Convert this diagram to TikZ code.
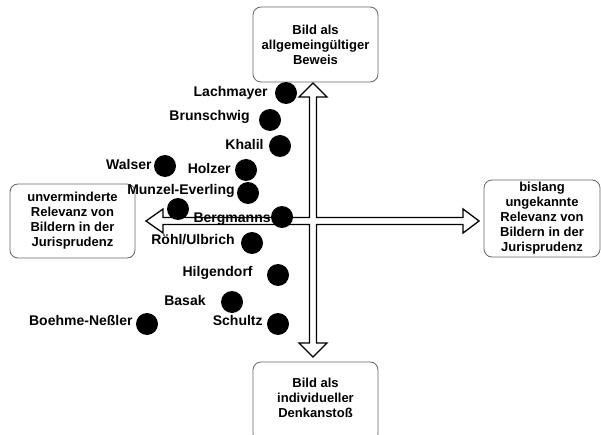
\documentclass[tikz,border=0pt]{standalone}
\usepackage{fontspec}
\setmainfont{Liberation Sans}
\usetikzlibrary{positioning}
\begin{document}
\begin{tikzpicture}[x=1pt, y=-1pt,
  quadbox/.style={draw=black!60, line width=0.8pt, rounded corners=8pt, fill=white,
                  align=center, inner sep=1pt, font=\fontsize{13}{15}\selectfont\bfseries},
  dot/.style={circle, fill=black, inner sep=0pt, minimum size=22pt},
  autor/.style={inner sep=0pt, text height=10pt, text depth=3pt,
                font=\fontsize{14}{16}\selectfont\bfseries}]
\useasboundingbox (0,0) rectangle (601,435);

% Achsenkreuz
\draw[line width=1.3pt, fill=white, shift={(313,221)}]
  (0,-138) -- (14,-124) -- (3.5,-124) -- (3.5,-3.5) -- (150,-3.5) -- (150,-12)
  -- (166,0) -- (150,12) -- (150,3.5) -- (3.5,3.5) -- (3.5,122) -- (14,122)
  -- (0,136) -- (-14,122) -- (-3.5,122) -- (-3.5,3.5) -- (-150,3.5) -- (-150,12)
  -- (-167,0) -- (-150,-12) -- (-150,-3.5) -- (-3.5,-3.5) -- (-3.5,-124)
  -- (-14,-124) -- cycle;

% Pole
\node[quadbox, minimum width=125pt, minimum height=75pt] (beweis) at (315.5,44.5)
  {Bild als\\allgemeingültiger\\Beweis};
\node[quadbox, minimum width=125pt, minimum height=74pt] (unvermindert) at (72.5,221)
  {unverminderte\\Relevanz von\\Bildern in der\\Jurisprudenz};
\node[quadbox, minimum width=116pt, minimum height=77pt, inner sep=0pt] (bislang) at (542,218.5)
  {bislang\\ungekannte\\Relevanz von\\Bildern in der\\Jurisprudenz};
\node[quadbox, minimum width=125pt, minimum height=80pt] (denkanstoss) at (315.5,402) {};
\node[align=center, font=\fontsize{13}{15}\selectfont\bfseries] (denkanstossT) at (315.5,398)
  {Bild als\\individueller\\Denkanstoß};

% Autoren
\node[dot] (lachmayer) at (286,93) {};
\node[autor, left=7pt of lachmayer] (lachmayerL) {Lachmayer};
\node[dot] (brunschwig) at (270,120) {};
\node[autor, left=9pt of brunschwig, yshift=3pt] (brunschwigL) {Brunschwig};
\node[dot] (khalil) at (280,146) {};
\node[autor, left=5pt of khalil] (khalilL) {Khalil};
\node[dot] (walser) at (165,166) {};
\node[autor, left=2pt of walser] (walserL) {Walser};
\node[dot] (holzer) at (246,170) {};
\node[autor, left=4pt of holzer] (holzerL) {Holzer};
\node[dot] (munzel) at (248,193) {};
\node[autor, left=2pt of munzel, yshift=2pt] (munzelL) {Munzel-Everling};
\node[dot] (punkt) at (178,209) {};
\node[dot] (bergmanns) at (282,217) {};
\node[autor, left=0pt of bergmanns, yshift=-2pt] (bergmannsL) {Bergmanns};
\node[dot] (roehl) at (252,243) {};
\node[autor, left=6pt of roehl, yshift=2pt] (roehlL) {Röhl/Ulbrich};
\node[dot] (hilgendorf) at (278,275) {};
\node[autor, left=14pt of hilgendorf, yshift=2pt] (hilgendorfL) {Hilgendorf};
\node[dot] (basak) at (232,302) {};
\node[autor, left=15pt of basak] (basakL) {Basak};
\node[dot] (boehme) at (147,324) {};
\node[autor, left=3pt of boehme, yshift=2pt] (boehmeL) {Boehme-Neßler};
\node[dot] (schultz) at (278,324) {};
\node[autor, left=4pt of schultz, yshift=2pt] (schultzL) {Schultz};
\end{tikzpicture}
\end{document}
